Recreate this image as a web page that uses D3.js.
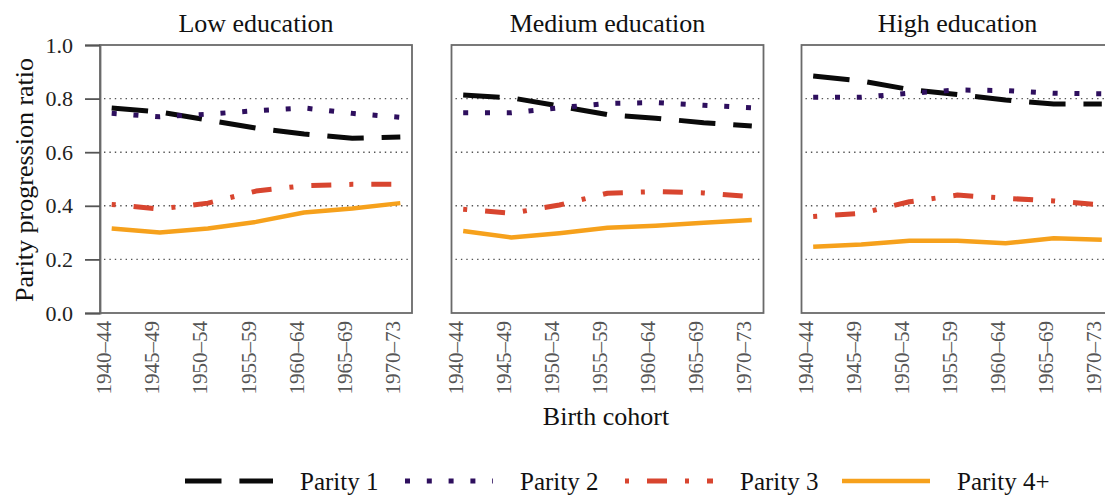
<!DOCTYPE html>
<html>
<head>
<meta charset="utf-8">
<script src="https://cdn.jsdelivr.net/npm/d3@7"></script>
<style>
  html, body { margin: 0; padding: 0; background: #fff; }
  svg { display: block; }
  text { font-family: "Liberation Serif", "Times New Roman", serif; }
</style>
</head>
<body>
<svg id="chart" width="1105" height="495"></svg>
<script>
// ---- data ----
const cohorts = ["1940–44", "1945–49", "1950–54", "1955–59", "1960–64", "1965–69", "1970–73"];
const panels = ["Low education", "Medium education", "High education"];
const seriesNames = ["Parity 1", "Parity 2", "Parity 3", "Parity 4+"];
const yTicks = [0.0, 0.2, 0.4, 0.6, 0.8, 1.0];

// values per panel (Low, Medium, High)
const parity1 = [
  [0.765, 0.750, 0.720, 0.690, 0.668, 0.652, 0.657],
  [0.813, 0.803, 0.772, 0.740, 0.727, 0.710, 0.698],
  [0.884, 0.866, 0.834, 0.815, 0.795, 0.780, 0.780]
];
const parity2 = [
  [0.745, 0.732, 0.742, 0.755, 0.765, 0.745, 0.730],
  [0.747, 0.747, 0.766, 0.782, 0.785, 0.775, 0.766],
  [0.805, 0.805, 0.820, 0.832, 0.830, 0.820, 0.818]
];
const parity3 = [
  [0.405, 0.388, 0.410, 0.455, 0.475, 0.480, 0.480],
  [0.387, 0.372, 0.403, 0.447, 0.453, 0.448, 0.434],
  [0.360, 0.372, 0.415, 0.440, 0.428, 0.418, 0.403]
];
const parity4 = [
  [0.315, 0.300, 0.315, 0.340, 0.375, 0.390, 0.410],
  [0.306, 0.282, 0.298, 0.318, 0.326, 0.337, 0.347],
  [0.247, 0.256, 0.270, 0.270, 0.260, 0.279, 0.273]
];

// ---- styles ----
const colors = ["#0a0a0a", "#2e0f5e", "#d8452f", "#f6a11c"];
const dashes = ["36.5,17.9", "5,16.8", "4,18,20,18", null];
const widths = [5, 5, 5, 4.5];
const allSeries = [parity1, parity2, parity3, parity4];

const svg = d3.select("#chart");

const plotTop = 45, plotBottom = 313;
const panelLeft = [100, 451.5, 801.5];
const panelWidth = 312;

const y = d3.scaleLinear().domain([0, 1]).range([plotBottom, plotTop]);

panels.forEach((title, pi) => {
  const left = panelLeft[pi];
  const x = d3.scalePoint().domain(cohorts).range([left, left + panelWidth]).padding(0.243);
  const g = svg.append("g");

  // gridlines
  g.selectAll("line.grid").data([0.2, 0.4, 0.6, 0.8]).enter().append("line")
    .attr("x1", left + 4).attr("x2", left + panelWidth - 2)
    .attr("y1", d => y(d)).attr("y2", d => y(d))
    .attr("stroke", "#555").attr("stroke-width", 1.4)
    .attr("stroke-dasharray", "1.4,4");

  // series lines
  allSeries.forEach((ser, si) => {
    const line = d3.line().x((d, i) => x(cohorts[i])).y(d => y(d)).curve(d3.curveLinear);
    const p = g.append("path").datum(ser[pi])
      .attr("d", line)
      .attr("fill", "none")
      .attr("stroke", colors[si])
      .attr("stroke-width", widths[si])
      .attr("stroke-linejoin", "round")
      .attr("stroke-linecap", "butt");
    if (dashes[si]) p.attr("stroke-dasharray", dashes[si]);
  });

  // panel box
  g.append("rect")
    .attr("x", left).attr("y", plotTop)
    .attr("width", panelWidth).attr("height", plotBottom - plotTop)
    .attr("fill", "none").attr("stroke", "#6a6a6a").attr("stroke-width", 1.8);

  // title
  g.append("text")
    .attr("x", left + panelWidth / 2).attr("y", 32)
    .attr("text-anchor", "middle")
    .attr("font-size", 26).attr("fill", "#111")
    .text(title);

  // rotated x tick labels
  g.selectAll("text.xt").data(cohorts).enter().append("text")
    .attr("transform", d => `translate(${x(d) - 0.5},321) rotate(-90)`)
    .attr("text-anchor", "end")
    .attr("font-size", 21).attr("fill", "#555")
    .text(d => d);
});

// y axis on first panel
const yAxis = d3.axisLeft(y).tickValues(yTicks).tickFormat(d3.format(".1f")).tickSize(15).tickPadding(12);
const ya = svg.append("g").attr("transform", `translate(${panelLeft[0]},0)`).call(yAxis);
ya.select(".domain").attr("stroke", "#6a6a6a").attr("stroke-width", 1.8);
ya.selectAll(".tick line").attr("stroke", "#555").attr("stroke-width", 1.8);
ya.selectAll(".tick text")
  .attr("font-family", "Liberation Serif, Times New Roman, serif")
  .attr("font-size", 22).attr("fill", "#222");

// axis titles
svg.append("text")
  .attr("transform", "translate(33,180) rotate(-90)")
  .attr("text-anchor", "middle")
  .attr("font-size", 26).attr("fill", "#111")
  .text("Parity progression ratio");

svg.append("text")
  .attr("x", 606).attr("y", 425)
  .attr("text-anchor", "middle")
  .attr("font-size", 26).attr("fill", "#111")
  .text("Birth cohort");

// legend
const legX = [185, 405, 625, 842];
const legLen = 88;
const legY = 481;
seriesNames.forEach((name, si) => {
  const lg = svg.append("g");
  const l = lg.append("line")
    .attr("x1", legX[si]).attr("x2", legX[si] + legLen)
    .attr("y1", legY).attr("y2", legY)
    .attr("stroke", colors[si]).attr("stroke-width", widths[si])
    .attr("stroke-linecap", "butt");
  if (dashes[si]) l.attr("stroke-dasharray", dashes[si]);
  lg.append("text")
    .attr("x", legX[si] + 115).attr("y", legY + 9)
    .attr("font-size", 25).attr("fill", "#111")
    .text(name);
});
</script>
</body>
</html>
